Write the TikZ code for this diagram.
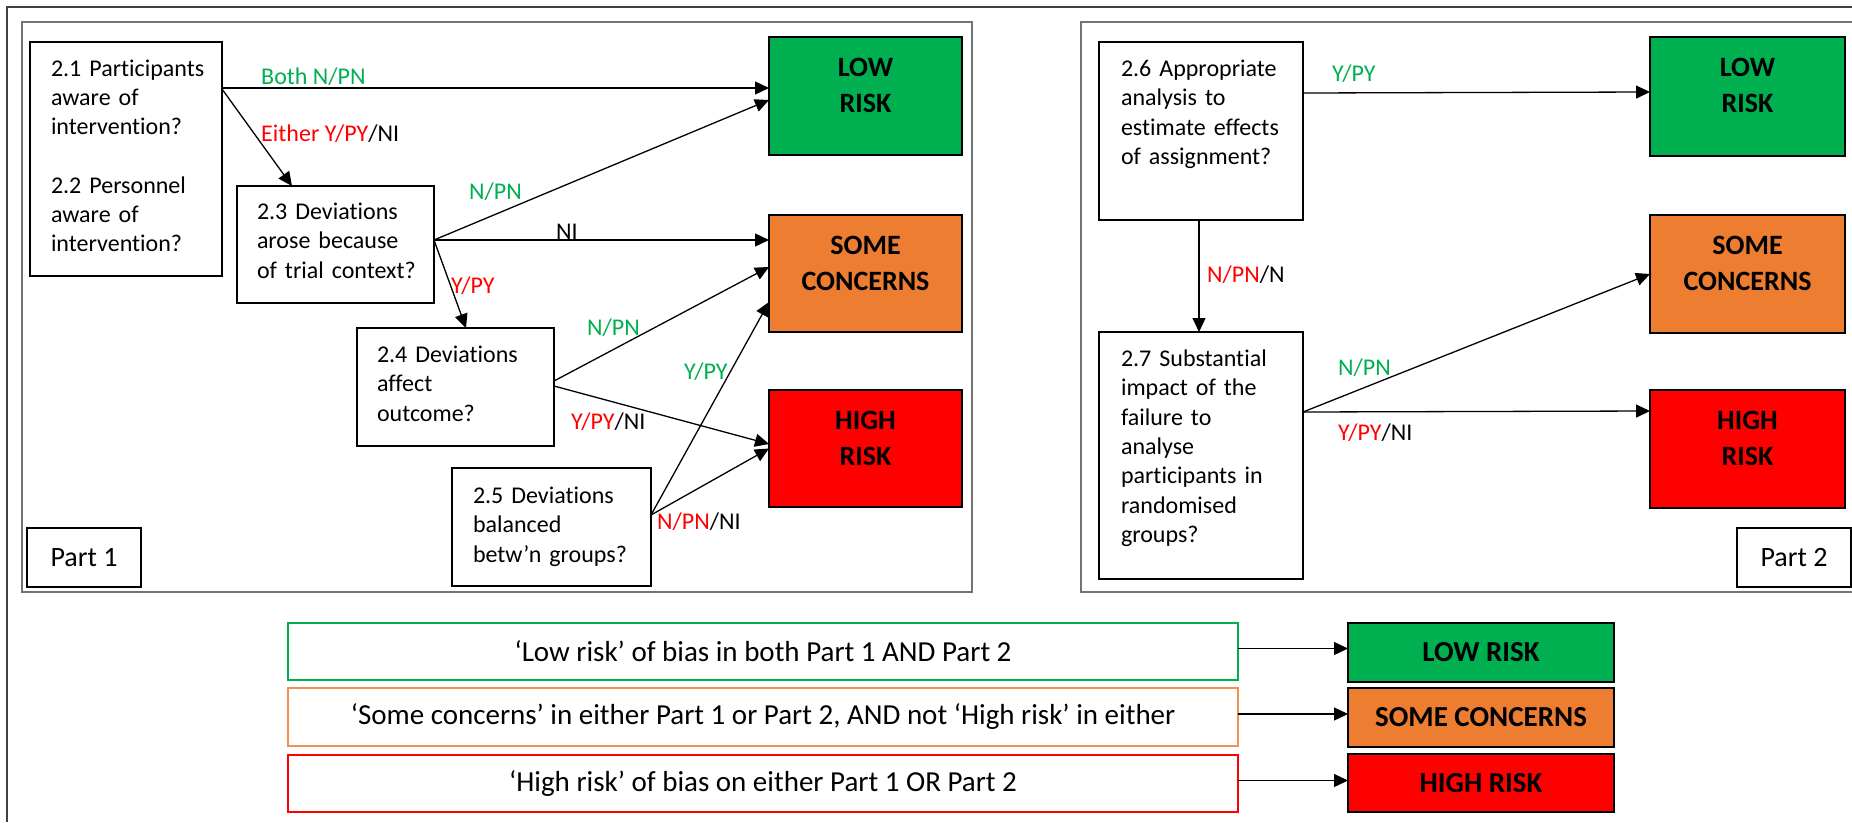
\documentclass[tikz,border=0pt]{standalone}
\usepackage{fontspec}
\setmainfont{Carlito}[Ligatures=NoCommon]
\usetikzlibrary{arrows.meta}
\definecolor{lowgreen}{HTML}{00B050}
\definecolor{someorange}{HTML}{ED7D31}
\definecolor{highred}{HTML}{FF0000}
\definecolor{lightorange}{RGB}{240,145,80}
\newcommand\qfont{\fontsize{24}{29.3}\selectfont}
\newcommand\riskfont{\fontsize{28}{36}\selectfont\bfseries}
\newcommand\resfont{\fontsize{29}{34}\selectfont\bfseries}
\newcommand\sumfont{\fontsize{29}{34}\selectfont}
\newcommand\partfont{\fontsize{28}{34}\selectfont}
\begin{document}
\begin{tikzpicture}[x=1pt,y=-1pt,
  corner/.style={inner sep=0pt, outer sep=0pt, anchor=north west},
  qbox/.style={corner, draw=black, line width=2.5pt},
  rbox/.style={corner, draw=black, line width=2.5pt},
  qtext/.style={anchor=north west, inner sep=0pt, outer sep=0pt,
                text width=220pt, align=left, font=\qfont},
  rtext/.style={anchor=north, inner sep=0pt, outer sep=0pt,
                text width=#1, align=center, font=\riskfont},
  lbl/.style={anchor=base west, inner sep=0pt, font=\qfont},
  sumbox/.style={corner, line width=2pt, font=\sumfont},
  arr/.style={-{Triangle[length=14pt,width=13pt]}, line width=1.3pt, black},
  frame/.style={line width=1.5pt, black!55}]

\useasboundingbox (0,0) rectangle (1852,822);

% outer frame and the two part panels
\draw[line width=1.5pt, black!75] (1852,7) -- (7,7) -- (7,822);
\draw[frame] (22,22) rectangle (972,592);
\draw[frame] (1852,22) -- (1081,22) -- (1081,592) -- (1852,592);

% ---------- Part 1 ----------
\node[qbox, minimum width=192pt, minimum height=234pt] (q21) at (30,42) {};
\node[qtext] (q21t) at (51,55.5) {\strut 2.1 Participants\\aware of\\intervention?\\[29.3pt]2.2 Personnel\\aware of\\intervention?};

\node[qbox, minimum width=197pt, minimum height=117pt] (q23) at (237,186) {};
\node[qtext] (q23t) at (257,199) {\strut 2.3 Deviations\\arose because\\of trial context?};

\node[qbox, minimum width=197pt, minimum height=118pt] (q24) at (357,328) {};
\node[qtext] (q24t) at (377,342) {\strut 2.4 Deviations\\affect\\outcome?};

\node[qbox, minimum width=199pt, minimum height=118pt] (q25) at (452,468) {};
\node[qtext] (q25t) at (473,483) {\strut 2.5 Deviations\\balanced\\betw’n groups?};

\node[qbox, minimum width=114pt, minimum height=59pt, font=\partfont] (p1) at (27,528) {Part 1};

\node[rbox, fill=lowgreen, minimum width=193pt, minimum height=118pt] (low1) at (769,37) {};
\node[rtext=193pt] (low1t) at ([yshift=-13.8pt]low1.north) {\strut LOW\\RISK};
\node[rbox, fill=someorange, minimum width=193pt, minimum height=117pt] (some1) at (769,215) {};
\node[rtext=193pt] (some1t) at ([yshift=-13.8pt]some1.north) {\strut SOME\\CONCERNS};
\node[rbox, fill=highred, minimum width=193pt, minimum height=117pt] (high1) at (769,390) {};
\node[rtext=193pt] (high1t) at ([yshift=-13.8pt]high1.north) {\strut HIGH\\RISK};

\draw[arr] ([yshift=-46pt]q21.north east) -- ([yshift=8pt]low1.west);
\draw[arr] ([yshift=-47pt]q21.north east) -- ([xshift=55pt]q23.north west);
\draw[arr] ([yshift=4.5pt]q23.east) -- ([yshift=-4pt]low1.west);
\draw[arr] ([yshift=4.5pt]q23.east) -- ([yshift=33.5pt]some1.west);
\draw[arr] ([yshift=4.5pt]q23.east) -- ([xshift=109pt]q24.north west);
\draw[arr] ([yshift=6pt]q24.east) -- ([yshift=6.5pt]some1.west);
\draw[arr] ([yshift=1pt]q24.east) -- ([yshift=4.5pt]high1.west);
\draw[arr] ([yshift=12pt]q25.east) -- ([yshift=-28.5pt]some1.west);
\draw[arr] ([yshift=12pt]q25.east) -- (high1.west);

\node[lbl, text=lowgreen] (l1) at (261,84) {Both N/PN};
\node[lbl] (l2) at (261,141) {\textcolor{highred}{Either Y/PY}/NI};
\node[lbl, text=lowgreen] (l3) at (469,199) {N/PN};
\node[lbl] (l4) at (556,239) {NI};
\node[lbl, text=highred] (l5) at (451,293) {Y/PY};
\node[lbl, text=lowgreen] (l6) at (587,335) {N/PN};
\node[lbl, text=lowgreen] (l7) at (684,379) {Y/PY};
\node[lbl] (l8) at (571,429) {\textcolor{highred}{Y/PY}/NI};
\node[lbl] (l9) at (657,529) {\textcolor{highred}{N/PN}/NI};

% ---------- Part 2 ----------
\node[qbox, minimum width=204pt, minimum height=178pt] (q26) at (1099,42) {};
\node[qtext] (q26t) at (1121,56) {\strut 2.6 Appropriate\\analysis to\\estimate effects\\of assignment?};

\node[qbox, minimum width=204pt, minimum height=247pt] (q27) at (1099,332) {};
\node[qtext] (q27t) at (1121,346) {\strut 2.7 Substantial\\impact of the\\failure to\\analyse\\participants in\\randomised\\groups?};

\node[qbox, minimum width=114pt, minimum height=59pt, font=\partfont] (p2) at (1737,528) {Part 2};

\node[rbox, fill=lowgreen, minimum width=195pt, minimum height=119pt] (low2) at (1650,37) {};
\node[rtext=195pt] (low2t) at ([yshift=-13.8pt]low2.north) {\strut LOW\\RISK};
\node[rbox, fill=someorange, minimum width=195pt, minimum height=118pt] (some2) at (1650,215) {};
\node[rtext=195pt] (some2t) at ([yshift=-13.8pt]some2.north) {\strut SOME\\CONCERNS};
\node[rbox, fill=highred, minimum width=195pt, minimum height=118pt] (high2) at (1650,390) {};
\node[rtext=195pt] (high2t) at ([yshift=-13.8pt]high2.north) {\strut HIGH\\RISK};

\draw[arr] ([yshift=-51pt]q26.north east) -- ([yshift=4.5pt]low2.west);
\draw[arr] ([xshift=-2pt]q26.south) -- ([xshift=-2pt]q27.north);
\draw[arr] ([yshift=43.5pt]q27.east) -- (some2.west);
\draw[arr] ([yshift=43.5pt]q27.east) -- ([yshift=38pt]high2.west);

\node[lbl, text=lowgreen] (l10) at (1332,81) {Y/PY};
\node[lbl] (l11) at (1207,282) {\textcolor{highred}{N/PN}/N};
\node[lbl, text=lowgreen] (l12) at (1338,375) {N/PN};
\node[lbl] (l13) at (1338,440) {\textcolor{highred}{Y/PY}/NI};

% ---------- overall judgement ----------
\node[sumbox, draw=lowgreen, minimum width=950pt, minimum height=57pt] (s1) at (288,623) {‘Low risk’ of bias in both Part 1 AND Part 2};
\node[sumbox, draw=lightorange, minimum width=950pt, minimum height=58pt] (s2) at (288,688) {‘Some concerns’ in either Part 1 or Part 2, AND not ‘High risk’ in either};
\node[sumbox, draw=highred, minimum width=950pt, minimum height=57pt] (s3) at (288,755) {‘High risk’ of bias on either Part 1 OR Part 2};

\node[rbox, fill=lowgreen, minimum width=266pt, minimum height=59pt, font=\resfont] (r1) at (1348,623) {LOW RISK};
\node[rbox, fill=someorange, minimum width=266pt, minimum height=59pt, font=\resfont] (r2) at (1348,688) {SOME CONCERNS};
\node[rbox, fill=highred, minimum width=266pt, minimum height=58pt, font=\resfont] (r3) at (1348,754) {HIGH RISK};

\draw[arr] ([yshift=3pt]s1.east) -- ([yshift=3pt]s1.east -| r1.west);
\draw[arr] ([yshift=3pt]s2.east) -- ([yshift=3pt]s2.east -| r2.west);
\draw[arr] ([yshift=3pt]s3.east) -- ([yshift=3pt]s3.east -| r3.west);

\end{tikzpicture}
\end{document}
